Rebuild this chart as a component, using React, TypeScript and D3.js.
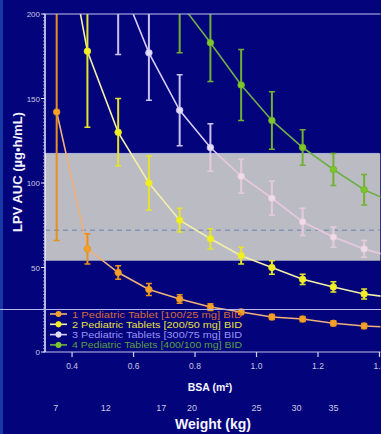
import { useEffect, useRef } from 'react';
import * as d3 from 'd3';

// BSA points (m²); last point lies past the right edge so lines run to the frame
const bsa = [0.35, 0.45, 0.55, 0.65, 0.75, 0.85, 0.95, 1.05, 1.15, 1.25, 1.35, 1.45];

const oneTabAuc = [142, 61, 47, 37, 31.4, 26.6, 23.7, 20.7, 19.5, 17, 15.4, 14.5];
const oneTabSd = [76, 9, 4, 3.5, 2.5, 2, 1.5, 1.5, 1.5, 1.5, 1.5, 1.5];
const twoTabAuc = [275, 178, 130, 100, 78, 67, 57, 50, 43, 38.5, 34.3, 32];
const twoTabSd = [60, 45, 20, 16, 7, 6, 5, 4, 3, 3, 3, 3];
const threeTabAuc = [null, null, 222, 177, 143, 121, 104, 91, 77, 68, 61, 56];
const threeTabSd = [0, 0, 46, 28, 21, 14, 10, 10, 8, 6, 5, 5];
const fourTabAuc = [null, null, null, null, 207, 183, 158, 137, 121, 108, 96, 88];
const fourTabSd = [0, 0, 0, 0, 30, 23, 21, 17, 10.5, 9.5, 9, 9];

const legendLabels = [
    '1 Pediatric Tablet [100/25 mg] BID',
    '2 Pediatric Tablets [200/50 mg] BID',
    '3 Pediatric Tablets [300/75 mg] BID',
    '4 Pediatric Tablets [400/100 mg] BID',
];

// target range (shaded) and reference line
const targetLow = 54;
const targetHigh = 117.5;
const refLine = 72;

const yTicks = [0, 50, 100, 150, 200];
const bsaTicks = [0.4, 0.6, 0.8, 1.0, 1.2, 1.4];
const weightTicks = [7, 12, 17, 20, 25, 30, 35];
const weightBsa = [0.347, 0.51, 0.69, 0.79, 1.0, 1.13, 1.25];

const series = [
    { auc: oneTabAuc, sd: oneTabSd, line: '#efb07a', mark: '#f3a12a', bar: '#e8901e', text: '#d46a3a' },
    { auc: twoTabAuc, sd: twoTabSd, line: '#f2f0a8', mark: '#f2ee24', bar: '#e6e42a', text: '#e6e040' },
    { auc: threeTabAuc, sd: threeTabSd, line: '#d6cbf2', mark: '#e4dcfa', bar: '#c9c2ee', text: '#9a94f6',
      bandLine: '#e6c6d8', bandBar: '#e2cad6' },
    { auc: fourTabAuc, sd: fourTabSd, line: '#6fae48', mark: '#7cc82a', bar: '#72b032', text: '#58a040' },
];

export default function App() {
    const ref = useRef(null);

    useEffect(() => {
        if (!ref.current) return;
        const W = 381, H = 434;
        const root = d3.select(ref.current);
        root.selectAll('*').remove();

        const svg = root.append('svg')
            .attr('width', W)
            .attr('height', H)
            .style('display', 'block');

        const left = 45, right = 379.5, top = 14, bottom = 352;
        const font = 'Liberation Sans, Arial, sans-serif';

        const x = d3.scaleLinear().domain([0.312, 1.4]).range([left, right]);
        const y = d3.scaleLinear().domain([0, 200]).range([bottom, top]);

        // background
        svg.append('rect').attr('width', W).attr('height', H).attr('fill', '#03037c');
        svg.append('rect').attr('x', 0).attr('width', 3).attr('height', H).attr('fill', '#1838a6');

        const defs = svg.append('defs');
        defs.append('clipPath').attr('id', 'plot-clip')
            .append('rect')
            .attr('x', left).attr('y', top)
            .attr('width', right - left + 1).attr('height', bottom - top);
        defs.append('clipPath').attr('id', 'band-clip')
            .append('rect')
            .attr('x', left).attr('y', y(targetHigh))
            .attr('width', right - left + 1).attr('height', y(targetLow) - y(targetHigh));

        const plot = svg.append('g').attr('clip-path', 'url(#plot-clip)');

        // shaded target band
        plot.append('rect')
            .attr('x', left)
            .attr('y', y(targetHigh))
            .attr('width', right - left + 1)
            .attr('height', y(targetLow) - y(targetHigh))
            .attr('fill', '#bbbbc3');
        plot.append('line')
            .attr('x1', left).attr('x2', right)
            .attr('y1', y(targetHigh)).attr('y2', y(targetHigh))
            .attr('stroke', '#a9b6dc').attr('stroke-width', 1);
        plot.append('line')
            .attr('x1', left).attr('x2', right)
            .attr('y1', y(refLine)).attr('y2', y(refLine))
            .attr('stroke', '#8595b8').attr('stroke-width', 1.5)
            .attr('stroke-dasharray', '5,4');

        const drawSeries = (g, s, lineColor, barColor) => {
            const pts = bsa.map((b, i) => ({ b, v: s.auc[i], sd: s.sd[i] }))
                .filter(d => d.v != null);

            const line = d3.line().x(d => x(d.b)).y(d => y(d.v));
            g.append('path')
                .datum(pts)
                .attr('d', line)
                .attr('fill', 'none')
                .attr('stroke', lineColor)
                .attr('stroke-width', 1.6);

            const bars = g.append('g');
            pts.forEach(d => {
                const lo = y(d.v - d.sd), hi = y(d.v + d.sd);
                bars.append('line')
                    .attr('x1', x(d.b)).attr('x2', x(d.b))
                    .attr('y1', lo).attr('y2', hi)
                    .attr('stroke', barColor).attr('stroke-width', 2);
                [lo, hi].forEach(yy => {
                    bars.append('line')
                        .attr('x1', x(d.b) - 3).attr('x2', x(d.b) + 3)
                        .attr('y1', yy).attr('y2', yy)
                        .attr('stroke', barColor).attr('stroke-width', 1.5);
                });
            });

            g.append('g').selectAll('circle')
                .data(pts)
                .enter()
                .append('circle')
                .attr('cx', d => x(d.b))
                .attr('cy', d => y(d.v))
                .attr('r', 3.3)
                .attr('fill', s.mark)
                .attr('stroke', barColor)
                .attr('stroke-width', 0.8);
        };

        series.forEach(s => {
            drawSeries(plot, s, s.line, s.bar);
            if (s.bandLine) {
                // the lavender series reads pink on the grey band
                const inBand = plot.append('g').attr('clip-path', 'url(#band-clip)');
                drawSeries(inBand, { ...s, mark: '#f0dce6' }, s.bandLine, s.bandBar);
            }
        });

        // frame / axes
        const frame = '#c4c4ee';
        svg.append('line').attr('x1', left).attr('x2', right + 1).attr('y1', top).attr('y2', top)
            .attr('stroke', frame).attr('stroke-width', 1.2);
        svg.append('line').attr('x1', left).attr('x2', right + 1).attr('y1', bottom).attr('y2', bottom)
            .attr('stroke', frame).attr('stroke-width', 1.2);
        svg.append('line').attr('x1', left).attr('x2', left).attr('y1', top).attr('y2', bottom)
            .attr('stroke', '#f0f0ff').attr('stroke-width', 1.5);

        // y minor ticks (dotted look)
        svg.append('g').selectAll('line')
            .data(d3.range(0, 201, 2))
            .enter()
            .append('line')
            .attr('x1', left - 2).attr('x2', left)
            .attr('y1', d => y(d)).attr('y2', d => y(d))
            .attr('stroke', '#b8b8e0').attr('stroke-width', 0.8);

        const yAxis = svg.append('g');
        yTicks.forEach(t => {
            yAxis.append('line')
                .attr('x1', left - 4).attr('x2', left)
                .attr('y1', y(t)).attr('y2', y(t))
                .attr('stroke', '#e0e0ff').attr('stroke-width', 1);
            yAxis.append('text')
                .attr('x', left - 5)
                .attr('y', y(t) + 3)
                .attr('text-anchor', 'end')
                .attr('font-family', font)
                .attr('font-size', 8)
                .attr('fill', '#c8c8e4')
                .text(t);
        });

        const xAxis = svg.append('g');
        bsaTicks.forEach(t => {
            xAxis.append('line')
                .attr('x1', x(t)).attr('x2', x(t))
                .attr('y1', bottom).attr('y2', bottom + 5)
                .attr('stroke', '#d0d0f4').attr('stroke-width', 1.2);
            xAxis.append('text')
                .attr('x', x(t))
                .attr('y', bottom + 17)
                .attr('text-anchor', 'middle')
                .attr('font-family', font)
                .attr('font-size', 8.5)
                .attr('fill', '#c8c8e4')
                .text(d3.format('.1f')(t));
        });

        weightTicks.forEach((w, i) => {
            svg.append('text')
                .attr('x', x(weightBsa[i]))
                .attr('y', 411)
                .attr('text-anchor', 'middle')
                .attr('font-family', font)
                .attr('font-size', 9)
                .attr('fill', '#c8c8e4')
                .text(w);
        });

        svg.append('text')
            .attr('x', 210).attr('y', 391)
            .attr('text-anchor', 'middle')
            .attr('font-family', font)
            .attr('font-weight', 'bold')
            .attr('font-size', 10.5)
            .attr('fill', '#f4f4ff')
            .text('BSA (m²)');
        svg.append('text')
            .attr('x', 213).attr('y', 429)
            .attr('text-anchor', 'middle')
            .attr('font-family', font)
            .attr('font-weight', 'bold')
            .attr('font-size', 14)
            .attr('fill', '#f4f4ff')
            .text('Weight (kg)');
        svg.append('text')
            .attr('transform', 'translate(22,172) rotate(-90)')
            .attr('text-anchor', 'middle')
            .attr('font-family', font)
            .attr('font-weight', 'bold')
            .attr('font-size', 13)
            .attr('fill', '#f4f4ff')
            .text('LPV AUC (µg•h/mL)');

        // legend
        const legend = svg.append('g');
        legendLabels.forEach((label, i) => {
            const s = series[i];
            const ly = 314 + i * 10.3;
            legend.append('line')
                .attr('x1', 50).attr('x2', 67)
                .attr('y1', ly).attr('y2', ly)
                .attr('stroke', s.line).attr('stroke-width', 1.6);
            legend.append('line')
                .attr('x1', 58.5).attr('x2', 58.5)
                .attr('y1', ly - 3).attr('y2', ly + 3)
                .attr('stroke', s.bar).attr('stroke-width', 1.5);
            legend.append('circle')
                .attr('cx', 58.5).attr('cy', ly).attr('r', 3)
                .attr('fill', s.mark);
            legend.append('text')
                .attr('x', 72).attr('y', ly + 3.5)
                .attr('font-family', font)
                .attr('font-size', 9.5)
                .attr('textLength', 170)
                .attr('lengthAdjust', 'spacingAndGlyphs')
                .attr('fill', s.text)
                .text(label);
        });

        // thin slide rule line across the figure
        svg.append('line')
            .attr('x1', 0).attr('x2', W)
            .attr('y1', 309.5).attr('y2', 309.5)
            .attr('stroke', '#b8b8ec').attr('stroke-width', 1);
    }, []);

    return (
        <div style={{ position: 'fixed', left: 0, top: 0, width: 381, height: 434 }}>
            <div ref={ref} />
        </div>
    );
}
